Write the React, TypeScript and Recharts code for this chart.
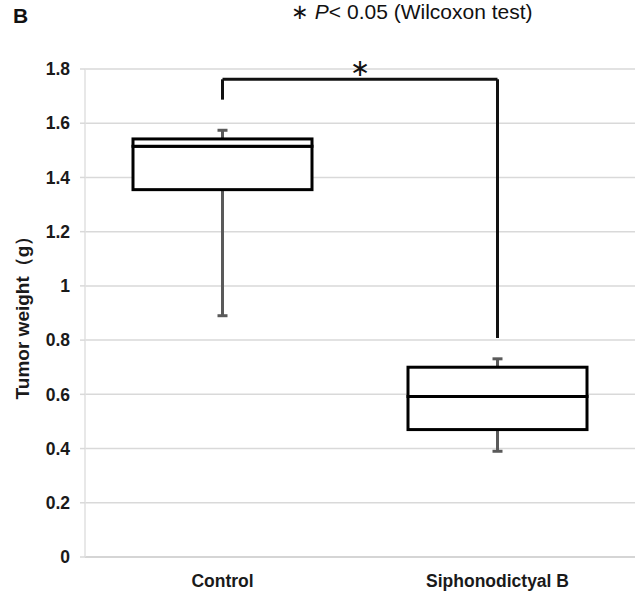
import React from "react";
import {
  ComposedChart,
  Bar,
  XAxis,
  YAxis,
  CartesianGrid,
  ReferenceLine,
} from "recharts";

// five-number summaries
const categories = ["Control", "Siphonodictyal B"];
const whiskerLow = [0.89, 0.39];
const q1 = [1.355, 0.47];
const median = [1.515, 0.592];
const q3 = [1.542, 0.7];
const whiskerHigh = [1.574, 0.731];

const yTicks = [0, 0.2, 0.4, 0.6, 0.8, 1, 1.2, 1.4, 1.6, 1.8];

// significance bracket
const bracketTop = 1.762;
const bracketEnds = [1.687, 0.808];

const data = categories.map((name, i) => ({
  name,
  base: q1[i],
  lower: median[i] - q1[i],
  upper: q3[i] - median[i],
  min: whiskerLow[i],
  max: whiskerHigh[i],
  q1: q1[i],
  median: median[i],
  q3: q3[i],
}));

const FONT = "'Liberation Sans', Arial, sans-serif";
const WHISKER = "#5a5a5a";

const LowerBox = (props: any) => {
  const { x, y, width, height, payload } = props;
  const k = height / (payload.median - payload.q1);
  const bottom = y + height;
  const wy = bottom + (payload.q1 - payload.min) * k;
  const cx = x + width / 2;
  return (
    <g>
      <line x1={cx} x2={cx} y1={bottom} y2={wy} stroke={WHISKER} strokeWidth={3} />
      <line x1={cx - 5} x2={cx + 5} y1={wy} y2={wy} stroke={WHISKER} strokeWidth={3} />
      <rect x={x} y={y} width={width} height={height} fill="#fff" stroke="#000" strokeWidth={3} />
    </g>
  );
};

const UpperBox = (props: any) => {
  const { x, y, width, height, payload } = props;
  const k = height / (payload.q3 - payload.median);
  const wy = y - (payload.max - payload.q3) * k;
  const cx = x + width / 2;
  return (
    <g>
      <line x1={cx} x2={cx} y1={y} y2={wy} stroke={WHISKER} strokeWidth={3} />
      <line x1={cx - 5} x2={cx + 5} y1={wy} y2={wy} stroke={WHISKER} strokeWidth={3} />
      <rect x={x} y={y} width={width} height={height} fill="#fff" stroke="#000" strokeWidth={3} />
    </g>
  );
};

const YLabel = (props: any) => {
  const { viewBox } = props;
  const cy = viewBox.y + viewBox.height / 2;
  const cx = 29;
  return (
    <text
      x={cx}
      y={cy}
      transform={`rotate(-90, ${cx}, ${cy})`}
      textAnchor="middle"
      fontFamily={FONT}
      fontWeight="bold"
      fontSize={19}
      fill="#1a1a1a"
    >
      Tumor weight（g）
    </text>
  );
};

export default function App() {
  return (
    <div
      style={{
        position: "absolute",
        left: 0,
        top: 0,
        width: 641,
        height: 593,
        background: "#fff",
        fontFamily: FONT,
      }}
    >
      <div
        style={{
          position: "absolute",
          left: 13,
          top: 4,
          fontSize: 21,
          fontWeight: "bold",
          color: "#111",
        }}
      >
        B
      </div>
      <div
        style={{
          position: "absolute",
          left: 291,
          top: 0,
          fontSize: 21,
          color: "#111",
          whiteSpace: "nowrap",
        }}
      >
        ∗ <i>P</i>&lt; 0.05 (Wilcoxon test)
      </div>
      <ComposedChart
        width={641}
        height={593}
        data={data}
        margin={{ top: 69, right: 6, bottom: 6, left: 25 }}
      >
        <CartesianGrid vertical={false} stroke="#d9d9d9" strokeWidth={1.5} />
        <XAxis
          dataKey="name"
          axisLine={{ stroke: "#d0d0d0", strokeWidth: 1.5 }}
          tickLine={false}
          height={30}
          tickMargin={12}
          tick={{ fill: "#1a1a1a", fontSize: 17.5, fontWeight: "bold", fontFamily: FONT }}
        />
        <YAxis
          domain={[0, 1.8]}
          ticks={yTicks}
          interval={0}
          width={60}
          axisLine={{ stroke: "#e0e0e0", strokeWidth: 1.5 }}
          tickLine={{ stroke: "#d9d9d9", strokeWidth: 1.5 }}
          tickSize={5}
          tickMargin={10}
          tickFormatter={(v: number) => String(Math.round(v * 10) / 10)}
          tick={{ fill: "#1a1a1a", fontSize: 17.5, fontWeight: "bold", fontFamily: FONT }}
          label={{ content: YLabel }}
        />
        <Bar dataKey="base" stackId="box" fill="transparent" barSize={179} isAnimationActive={false} />
        <Bar dataKey="lower" stackId="box" barSize={179} shape={LowerBox} isAnimationActive={false} />
        <Bar dataKey="upper" stackId="box" barSize={179} shape={UpperBox} isAnimationActive={false} />
        <ReferenceLine
          segment={[
            { x: categories[0], y: bracketEnds[0] },
            { x: categories[0], y: bracketTop },
          ]}
          stroke="#111"
          strokeWidth={3}
        />
        <ReferenceLine
          segment={[
            { x: categories[0], y: bracketTop },
            { x: categories[1], y: bracketTop },
          ]}
          stroke="#111"
          strokeWidth={3}
          label={{ value: "∗", position: "top", offset: 3, fontSize: 24, fill: "#111", fontFamily: "DejaVu Sans" }}
        />
        <ReferenceLine
          segment={[
            { x: categories[1], y: bracketTop },
            { x: categories[1], y: bracketEnds[1] },
          ]}
          stroke="#111"
          strokeWidth={3}
        />
      </ComposedChart>
    </div>
  );
}
